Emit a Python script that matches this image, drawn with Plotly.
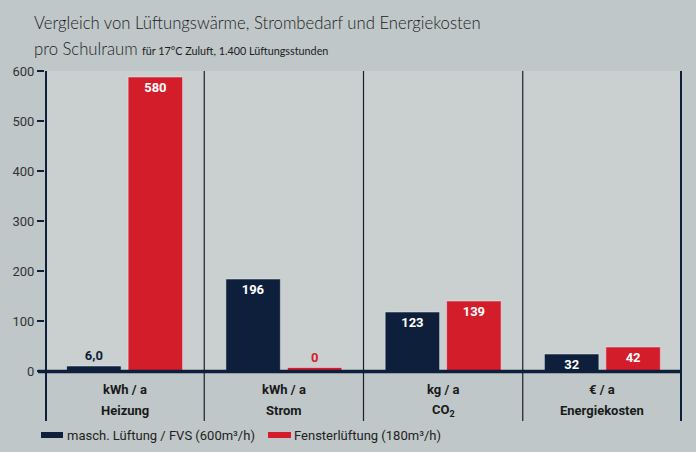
import plotly.graph_objects as go

categories = ["Heizung", "Strom", "CO2", "Energiekosten"]
units = ["kWh / a", "kWh / a", "kg / a", "€ / a"]
cat_names = ["Heizung", "Strom", "CO<sub>2</sub>", "Energiekosten"]
masch_values = [10, 184, 118, 34]
fenster_values = [588, 7, 140, 48]
masch_labels = ["6,0", "196", "123", "32"]
fenster_labels = ["580", "0", "139", "42"]
y_ticks = [0, 100, 200, 300, 400, 500, 600]
series_names = ["masch. Lüftung / FVS (600m³/h)", "Fensterlüftung (180m³/h)"]

NAVY = "#0e1f3b"
RED = "#d31d2b"
OUTER = "#bfc7c8"
INNER = "#c9d0cf"
TXT = "#1c1c1c"

W, H = 696, 452
ML, MR, MT, MB = 45, 14, 71, 31
PW, PH = W - ML - MR, H - MT - MB


def px(xp):
    return (xp - ML) / PW


def py(yp):
    return (H - MB - yp) / PH


x = list(range(len(categories)))

fig = go.Figure()
fig.add_trace(go.Bar(
    x=x, y=masch_values, name=series_names[0], marker_color=NAVY,
    text=masch_labels,
    textposition=["outside", "inside", "inside", "inside"],
    insidetextanchor="end", textangle=0,
    insidetextfont=dict(color="white", size=13, family="Roboto", weight="bold"),
    outsidetextfont=dict(color=NAVY, size=13, family="Roboto", weight="bold"),
    constraintext="none", cliponaxis=False, showlegend=False,
))
fig.add_trace(go.Bar(
    x=x, y=fenster_values, name=series_names[1], marker_color=RED,
    text=fenster_labels,
    textposition=["inside", "outside", "inside", "inside"],
    insidetextanchor="end", textangle=0,
    insidetextfont=dict(color="white", size=13, family="Roboto", weight="bold"),
    outsidetextfont=dict(color=RED, size=13, family="Roboto", weight="bold"),
    constraintext="none", cliponaxis=False, showlegend=False,
))

shapes = []
shapes.append(dict(type="rect", xref="x", yref="y", x0=-0.5, x1=3.5, y0=0, y1=600,
                   fillcolor=INNER, line=dict(width=0), layer="below"))
for d in [0.5, 1.5, 2.5]:
    shapes.append(dict(type="line", xref="x", yref="y", x0=d, x1=d, y0=-100, y1=600,
                       line=dict(color="#1b1f2b", width=1.2), layer="above"))
for xv in [-0.5, 3.5]:
    shapes.append(dict(type="line", xref="x", yref="y", x0=xv, x1=xv, y0=-100, y1=600,
                       line=dict(color=NAVY, width=4), layer="above"))
shapes.append(dict(type="line", xref="paper", yref="y", x0=px(38), x1=1, y0=-1, y1=-1,
                   line=dict(color=NAVY, width=3.5), layer="above"))

annotations = []
for i in range(len(categories)):
    annotations.append(dict(x=i, y=-36, xref="x", yref="y", text="<b>%s</b>" % units[i],
                            showarrow=False, font=dict(family="Roboto", size=13, color="#1a1a1a"),
                            xanchor="center", yanchor="middle"))
    annotations.append(dict(x=i, y=-78, xref="x", yref="y", text="<b>%s</b>" % cat_names[i],
                            showarrow=False, font=dict(family="Roboto", size=13, color="#1a1a1a"),
                            xanchor="center", yanchor="middle"))

TITLE_FONT = "Lato"
annotations.append(dict(x=px(32), y=py(23), xref="paper", yref="paper",
                        text="Vergleich von Lüftungswärme, Strombedarf und Energiekosten",
                        showarrow=False, xanchor="left", yanchor="middle",
                        font=dict(family=TITLE_FONT, size=16.7, color=TXT, weight=300)))
annotations.append(dict(x=px(32), y=py(49), xref="paper", yref="paper",
                        text="pro Schulraum",
                        showarrow=False, xanchor="left", yanchor="middle",
                        font=dict(family=TITLE_FONT, size=16.7, color=TXT, weight=300)))
annotations.append(dict(x=px(140), y=py(51), xref="paper", yref="paper",
                        text="für 17°C Zuluft, 1.400 Lüftungsstunden",
                        showarrow=False, xanchor="left", yanchor="middle",
                        font=dict(family=TITLE_FONT, size=10.8, color=TXT)))

legend_items = [(41, 63, NAVY, 65, series_names[0]), (268, 291, RED, 292, series_names[1])]
for x0, x1, col, tx, name in legend_items:
    shapes.append(dict(type="rect", xref="paper", yref="paper",
                       x0=px(x0), x1=px(x1), y0=py(438), y1=py(432),
                       fillcolor=col, line=dict(width=0)))
    annotations.append(dict(x=px(tx), y=py(435), xref="paper", yref="paper", text=name,
                            showarrow=False, xanchor="left", yanchor="middle",
                            font=dict(family="Roboto", size=13, color="#222")))

fig.update_layout(
    width=W, height=H,
    margin=dict(l=ML, r=MR, t=MT, b=MB, pad=0),
    paper_bgcolor=OUTER, plot_bgcolor=OUTER,
    barmode="group", bargap=0.228, bargroupgap=0.114,
    shapes=shapes, annotations=annotations,
    xaxis=dict(range=[-0.5, 3.5], showgrid=False, zeroline=False, showticklabels=False,
               ticks="", showline=False, fixedrange=True),
    yaxis=dict(range=[-100, 600], tickvals=y_ticks, ticktext=[str(v) for v in y_ticks],
               showgrid=False, zeroline=False, showline=False,
               ticks="outside", ticklen=7, tickwidth=1.5, tickcolor=NAVY,
               tickfont=dict(family="Roboto", size=13, color="#333")),
    showlegend=False,
)

fig.write_html("out.html", config={"displayModeBar": False},
               post_script="document.body.style.margin='0';document.body.style.background='%s';" % OUTER)
